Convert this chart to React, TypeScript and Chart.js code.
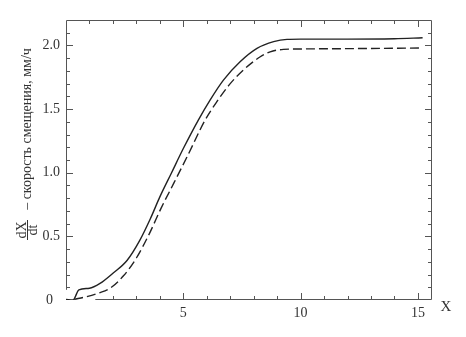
import React, { useEffect, useRef } from "react";
import { Chart, registerables } from "chart.js";

Chart.register(...registerables);

// Solid curve
const solidX = [0, 0.3, 0.55, 1.0, 1.45, 2.0, 2.6, 3.15, 3.6, 4.0, 4.5, 5.0, 5.64, 6.14, 6.71, 7.42, 8.14, 8.85, 9.42, 10.0, 12.0, 14.0, 15.2];
const solidY = [0.005, 0.0, 0.08, 0.092, 0.13, 0.21, 0.31, 0.47, 0.64, 0.81, 1.0, 1.19, 1.414, 1.571, 1.728, 1.872, 1.977, 2.03, 2.048, 2.05, 2.05, 2.053, 2.06];

// Dashed curve
const dashedX = [0.35, 0.85, 1.4, 1.9, 2.45, 3.0, 3.55, 4.05, 4.6, 5.2, 5.93, 6.43, 7.0, 7.64, 8.28, 8.7, 9.27, 9.85, 12.0, 15.2];
const dashedY = [0.005, 0.025, 0.055, 0.095, 0.19, 0.33, 0.52, 0.72, 0.92, 1.14, 1.414, 1.558, 1.7, 1.82, 1.911, 1.95, 1.969, 1.972, 1.975, 1.98];

const xTickValues = [5, 10, 15];
const xTickLabels = ["5", "10", "15"];
const yTickValues = [0, 0.5, 1.0, 1.5, 2.0];
const yTickLabels = ["0", "0.5", "1.0", "1.5", "2.0"];
const xMinorTicks = [1, 2, 3, 4, 5, 6, 7, 8, 9, 10, 11, 12, 13, 14, 15];
const yMinorTicks = [0.1, 0.2, 0.3, 0.4, 0.5, 0.6, 0.7, 0.8, 0.9, 1.0, 1.1, 1.2, 1.3, 1.4, 1.5, 1.6, 1.7, 1.8, 1.9, 2.0, 2.1];

const xAxisLabel = "X";
const yTitleNum = "dX";
const yTitleDen = "dt";
const yTitleText = "– скорость смещения, мм/ч";

const FONT = "'Liberation Serif', 'Times New Roman', serif";
const TEXT = "#333";
const LINE = "#222";

const decorPlugin = {
  id: "decor",
  afterDatasetsDraw(chart: any) {
    const { ctx, chartArea, scales } = chart;
    const xs = scales.x;
    const ys = scales.y;
    const L = chartArea.left, R = chartArea.right, T = chartArea.top, B = chartArea.bottom;
    ctx.save();
    ctx.strokeStyle = "#555";
    ctx.lineWidth = 1;
    // frame
    const leftEnd = ys.getPixelForValue(0.08);
    const bottomStart = xs.getPixelForValue(1.25);
    ctx.beginPath();
    ctx.moveTo(L + 0.5, leftEnd);
    ctx.lineTo(L + 0.5, T + 0.5);
    ctx.lineTo(R - 0.5, T + 0.5);
    ctx.lineTo(R - 0.5, B - 0.5);
    ctx.lineTo(bottomStart, B - 0.5);
    ctx.stroke();
    // x ticks
    ctx.beginPath();
    xMinorTicks.forEach((v) => {
      const px = Math.round(xs.getPixelForValue(v)) + 0.5;
      const major = xTickValues.includes(v);
      const len = major ? 7 : 4;
      ctx.moveTo(px, T);
      ctx.lineTo(px, T + len);
      if (px > bottomStart) {
        ctx.moveTo(px, B);
        ctx.lineTo(px, B - len);
      }
    });
    // y ticks
    yMinorTicks.forEach((v) => {
      const py = Math.round(ys.getPixelForValue(v)) + 0.5;
      const major = Math.abs(v * 2 - Math.round(v * 2)) < 1e-6;
      const len = major ? 7 : 4;
      if (py < leftEnd) {
        ctx.moveTo(L, py);
        ctx.lineTo(L + len, py);
      }
      ctx.moveTo(R, py);
      ctx.lineTo(R - len, py);
    });
    ctx.stroke();

    // x axis label
    ctx.fillStyle = TEXT;
    ctx.font = `15px ${FONT}`;
    ctx.textAlign = "center";
    ctx.textBaseline = "middle";
    ctx.fillText(xAxisLabel, 446, 307);

    // y title with fraction
    ctx.save();
    ctx.translate(27.5, 230);
    ctx.rotate(-Math.PI / 2);
    ctx.font = `14px ${FONT}`;
    ctx.textAlign = "center";
    ctx.textBaseline = "middle";
    ctx.fillText(yTitleNum, 0, -5.5);
    ctx.fillText(yTitleDen, 0, 5.5);
    ctx.beginPath();
    ctx.strokeStyle = TEXT;
    ctx.lineWidth = 1;
    ctx.moveTo(-10, 0);
    ctx.lineTo(10, 0);
    ctx.stroke();
    ctx.restore();

    ctx.save();
    ctx.translate(27.5, 129);
    ctx.rotate(-Math.PI / 2);
    ctx.font = `14px ${FONT}`;
    ctx.textAlign = "center";
    ctx.textBaseline = "middle";
    ctx.fillText(yTitleText, 0, 0);
    ctx.restore();

    ctx.restore();
  },
};

export default function App() {
  const ref = useRef<HTMLCanvasElement | null>(null);
  useEffect(() => {
    if (!ref.current) return;
    const chart = new Chart(ref.current, {
      type: "line",
      data: {
        datasets: [
          {
            data: solidX.map((x, i) => ({ x, y: solidY[i] })),
            borderColor: LINE,
            borderWidth: 1.4,
            pointRadius: 0,
            fill: false,
            cubicInterpolationMode: "monotone",
          },
          {
            data: dashedX.map((x, i) => ({ x, y: dashedY[i] })),
            borderColor: LINE,
            borderWidth: 1.4,
            borderDash: [9, 4],
            pointRadius: 0,
            fill: false,
            cubicInterpolationMode: "monotone",
          },
        ],
      },
      options: {
        animation: false,
        responsive: false,
        events: [],
        layout: { padding: { top: 20, right: 34, left: 0, bottom: 0 } },
        plugins: { legend: { display: false }, tooltip: { enabled: false } },
        scales: {
          x: {
            type: "linear",
            min: 0,
            max: 15.6,
            afterBuildTicks: (s: any) => {
              s.ticks = xTickValues.map((value) => ({ value }));
            },
            afterFit: (s: any) => {
              s.height = 37;
            },
            grid: { display: false, drawTicks: false },
            border: { display: false },
            ticks: {
              autoSkip: false,
              maxRotation: 0,
              padding: 5,
              color: TEXT,
              font: { family: FONT, size: 14 },
              callback: (v: any, i: number) => xTickLabels[i],
            },
          },
          y: {
            type: "linear",
            min: 0,
            max: 2.2,
            afterBuildTicks: (s: any) => {
              s.ticks = yTickValues.map((value) => ({ value }));
            },
            afterFit: (s: any) => {
              s.width = 66;
            },
            grid: { display: false, drawTicks: false },
            border: { display: false },
            ticks: {
              autoSkip: false,
              padding: 6,
              color: TEXT,
              font: { family: FONT, size: 14 },
              callback: (v: any, i: number) => (yTickValues[i] === 0 ? yTickLabels[i] + "\u2002" : yTickLabels[i]),
            },
          },
        },
      },
      plugins: [decorPlugin],
    } as any);
    return () => chart.destroy();
  }, []);
  return (
    <div style={{ position: "absolute", left: 0, top: 0, width: 466, height: 337, background: "#fff" }}>
      <canvas ref={ref} width={466} height={337} />
    </div>
  );
}
